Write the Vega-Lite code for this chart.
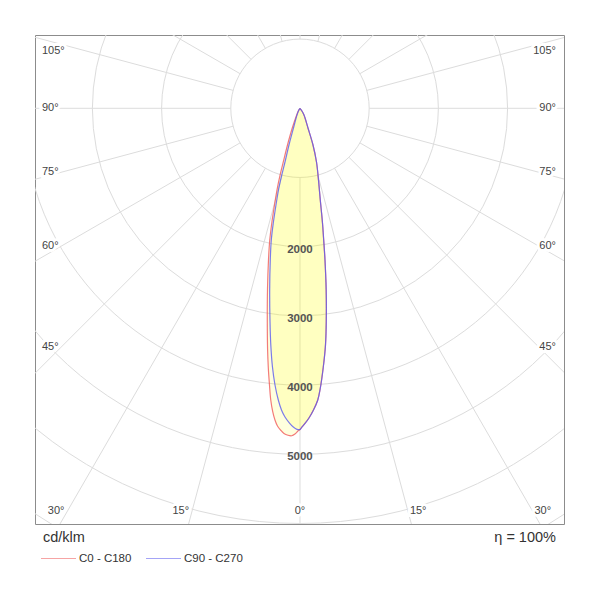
{
  "$schema": "https://vega.github.io/schema/vega-lite/v6.json",
  "width": 529,
  "height": 489,
  "autosize": {"type": "none"},
  "padding": {"left": 35, "top": 35, "right": 36, "bottom": 76},
  "config": {
    "view": {"stroke": "#8c8c8c", "strokeWidth": 1},
    "font": "Liberation Sans",
    "text": {"font": "Liberation Sans"}
  },
  "datasets": {
    "curves": [
      {"plane": "C0 - C180", "angle": -40, "I": 0},
      {"plane": "C0 - C180", "angle": -33, "I": 45},
      {"plane": "C0 - C180", "angle": -26.2, "I": 108},
      {"plane": "C0 - C180", "angle": -21.35, "I": 306},
      {"plane": "C0 - C180", "angle": -18.8, "I": 560},
      {"plane": "C0 - C180", "angle": -17.3, "I": 812},
      {"plane": "C0 - C180", "angle": -16.6, "I": 1008},
      {"plane": "C0 - C180", "angle": -15.72, "I": 1227},
      {"plane": "C0 - C180", "angle": -14.77, "I": 1445},
      {"plane": "C0 - C180", "angle": -13.81, "I": 1707},
      {"plane": "C0 - C180", "angle": -12.92, "I": 1953},
      {"plane": "C0 - C180", "angle": -11.73, "I": 2239},
      {"plane": "C0 - C180", "angle": -10.14, "I": 2667},
      {"plane": "C0 - C180", "angle": -8.78, "I": 3096},
      {"plane": "C0 - C180", "angle": -7.63, "I": 3524},
      {"plane": "C0 - C180", "angle": -6.99, "I": 3766},
      {"plane": "C0 - C180", "angle": -6.29, "I": 4023},
      {"plane": "C0 - C180", "angle": -5.72, "I": 4237},
      {"plane": "C0 - C180", "angle": -5.12, "I": 4406},
      {"plane": "C0 - C180", "angle": -4.59, "I": 4519},
      {"plane": "C0 - C180", "angle": -4.05, "I": 4603},
      {"plane": "C0 - C180", "angle": -3.47, "I": 4657},
      {"plane": "C0 - C180", "angle": -2.82, "I": 4705},
      {"plane": "C0 - C180", "angle": -2.1, "I": 4728},
      {"plane": "C0 - C180", "angle": -1.45, "I": 4733},
      {"plane": "C0 - C180", "angle": -0.88, "I": 4707},
      {"plane": "C0 - C180", "angle": -0.36, "I": 4663},
      {"plane": "C0 - C180", "angle": 0, "I": 4642},
      {"plane": "C0 - C180", "angle": 0.27, "I": 4613},
      {"plane": "C0 - C180", "angle": 0.91, "I": 4555},
      {"plane": "C0 - C180", "angle": 1.66, "I": 4477},
      {"plane": "C0 - C180", "angle": 2.56, "I": 4364},
      {"plane": "C0 - C180", "angle": 3.49, "I": 4223},
      {"plane": "C0 - C180", "angle": 4.06, "I": 4081},
      {"plane": "C0 - C180", "angle": 5.15, "I": 3753},
      {"plane": "C0 - C180", "angle": 6.15, "I": 3440},
      {"plane": "C0 - C180", "angle": 7.08, "I": 3083},
      {"plane": "C0 - C180", "angle": 8.2, "I": 2653},
      {"plane": "C0 - C180", "angle": 9.36, "I": 2221},
      {"plane": "C0 - C180", "angle": 10.2, "I": 1934},
      {"plane": "C0 - C180", "angle": 11.1, "I": 1689},
      {"plane": "C0 - C180", "angle": 12.48, "I": 1357},
      {"plane": "C0 - C180", "angle": 14.47, "I": 1070},
      {"plane": "C0 - C180", "angle": 17.08, "I": 812},
      {"plane": "C0 - C180", "angle": 19.5, "I": 563},
      {"plane": "C0 - C180", "angle": 22.1, "I": 307},
      {"plane": "C0 - C180", "angle": 30.8, "I": 113},
      {"plane": "C0 - C180", "angle": 36, "I": 40},
      {"plane": "C0 - C180", "angle": 40, "I": 0},
      {"plane": "C90 - C270", "angle": -40, "I": 0},
      {"plane": "C90 - C270", "angle": -31, "I": 40},
      {"plane": "C90 - C270", "angle": -24.1, "I": 106},
      {"plane": "C90 - C270", "angle": -18.3, "I": 300},
      {"plane": "C90 - C270", "angle": -16.7, "I": 554},
      {"plane": "C90 - C270", "angle": -15.6, "I": 806},
      {"plane": "C90 - C270", "angle": -15.26, "I": 999},
      {"plane": "C90 - C270", "angle": -14.74, "I": 1221},
      {"plane": "C90 - C270", "angle": -13.94, "I": 1440},
      {"plane": "C90 - C270", "angle": -13.1, "I": 1702},
      {"plane": "C90 - C270", "angle": -12.29, "I": 1948},
      {"plane": "C90 - C270", "angle": -11.08, "I": 2234},
      {"plane": "C90 - C270", "angle": -9.47, "I": 2662},
      {"plane": "C90 - C270", "angle": -8.07, "I": 3090},
      {"plane": "C90 - C270", "angle": -7.03, "I": 3446},
      {"plane": "C90 - C270", "angle": -6.07, "I": 3760},
      {"plane": "C90 - C270", "angle": -5.16, "I": 4015},
      {"plane": "C90 - C270", "angle": -4.25, "I": 4227},
      {"plane": "C90 - C270", "angle": -3.51, "I": 4368},
      {"plane": "C90 - C270", "angle": -2.78, "I": 4466},
      {"plane": "C90 - C270", "angle": -1.91, "I": 4551},
      {"plane": "C90 - C270", "angle": -1.2, "I": 4607},
      {"plane": "C90 - C270", "angle": -0.54, "I": 4639},
      {"plane": "C90 - C270", "angle": 0, "I": 4642},
      {"plane": "C90 - C270", "angle": 0.27, "I": 4613},
      {"plane": "C90 - C270", "angle": 0.91, "I": 4555},
      {"plane": "C90 - C270", "angle": 1.66, "I": 4477},
      {"plane": "C90 - C270", "angle": 2.56, "I": 4364},
      {"plane": "C90 - C270", "angle": 3.49, "I": 4223},
      {"plane": "C90 - C270", "angle": 4.06, "I": 4081},
      {"plane": "C90 - C270", "angle": 5.15, "I": 3753},
      {"plane": "C90 - C270", "angle": 6.15, "I": 3440},
      {"plane": "C90 - C270", "angle": 7.08, "I": 3083},
      {"plane": "C90 - C270", "angle": 8.2, "I": 2653},
      {"plane": "C90 - C270", "angle": 9.36, "I": 2221},
      {"plane": "C90 - C270", "angle": 10.2, "I": 1934},
      {"plane": "C90 - C270", "angle": 11.1, "I": 1689},
      {"plane": "C90 - C270", "angle": 12.48, "I": 1357},
      {"plane": "C90 - C270", "angle": 14.47, "I": 1070},
      {"plane": "C90 - C270", "angle": 17.08, "I": 812},
      {"plane": "C90 - C270", "angle": 19.5, "I": 563},
      {"plane": "C90 - C270", "angle": 22.1, "I": 307},
      {"plane": "C90 - C270", "angle": 30.8, "I": 113},
      {"plane": "C90 - C270", "angle": 36, "I": 40},
      {"plane": "C90 - C270", "angle": 40, "I": 0}
    ],
    "circles": [
      {"r": 1000}, {"r": 2000}, {"r": 3000}, {"r": 4000}, {"r": 5000}, {"r": 6000}, {"r": 7000}
    ],
    "radials": [
      {"a": 0}, {"a": 15}, {"a": 30}, {"a": 45}, {"a": 60}, {"a": 75}, {"a": 90}, {"a": 105},
      {"a": 120}, {"a": 135}, {"a": 150}, {"a": 165}, {"a": 180}, {"a": 195}, {"a": 210}, {"a": 225},
      {"a": 240}, {"a": 255}, {"a": 270}, {"a": 285}, {"a": 300}, {"a": 315}, {"a": 330}, {"a": 345}
    ],
    "dist": [{"r": 2000}, {"r": 3000}, {"r": 4000}, {"r": 5000}],
    "side": [{"a": 105}, {"a": 90}, {"a": 75}, {"a": 60}, {"a": 45}],
    "bottom": [{"a": -30}, {"a": -15}, {"a": 0}, {"a": 15}, {"a": 30}]
  },
  "layer": [
    {
      "data": {"name": "circles"},
      "mark": {"type": "arc", "theta": 0, "theta2": 6.2832, "filled": false, "color": "#dcdcdc", "strokeWidth": 1, "clip": true},
      "encoding": {
        "x": {"datum": 0, "type": "quantitative", "scale": {"domain": [-3829, 3815], "nice": false, "zero": false}, "axis": null},
        "y": {"datum": 0, "type": "quantitative", "scale": {"domain": [-6007, 1059], "nice": false, "zero": false}, "axis": null},
        "radius": {"field": "r", "type": "quantitative", "stack": null, "scale": {"type": "linear", "domain": [0, 7000], "range": [0, 484.4], "zero": true}, "legend": null}
      }
    },
    {
      "data": {"name": "radials"},
      "transform": [
        {"calculate": "1000*sin(datum.a*PI/180)", "as": "xa"},
        {"calculate": "-1000*cos(datum.a*PI/180)", "as": "ya"},
        {"calculate": "9000*sin(datum.a*PI/180)", "as": "xb"},
        {"calculate": "-9000*cos(datum.a*PI/180)", "as": "yb"}
      ],
      "mark": {"type": "rule", "color": "#dcdcdc", "strokeWidth": 1, "clip": true},
      "encoding": {
        "x": {"field": "xa", "type": "quantitative", "scale": {"domain": [-3829, 3815], "nice": false, "zero": false}, "axis": null},
        "y": {"field": "ya", "type": "quantitative", "scale": {"domain": [-6007, 1059], "nice": false, "zero": false}, "axis": null},
        "x2": {"field": "xb"},
        "y2": {"field": "yb"}
      }
    },
    {
      "data": {"name": "curves"},
      "transform": [
        {"calculate": "datum.I*sin(datum.angle*PI/180)", "as": "cx"},
        {"calculate": "-datum.I*cos(datum.angle*PI/180)", "as": "cy"}
      ],
      "mark": {"type": "line", "fill": "#ffff00", "fillOpacity": 0.13, "strokeWidth": 1.2, "strokeOpacity": 0.8, "interpolate": "catmull-rom"},
      "encoding": {
        "x": {"field": "cx", "type": "quantitative", "scale": {"domain": [-3829, 3815], "nice": false, "zero": false}, "axis": null},
        "y": {"field": "cy", "type": "quantitative", "scale": {"domain": [-6007, 1059], "nice": false, "zero": false}, "axis": null},
        "order": {"field": "angle", "type": "quantitative"},
        "stroke": {
          "field": "plane", "type": "nominal",
          "scale": {"domain": ["C0 - C180", "C90 - C270"], "range": ["#f05a5a", "#5a5af0"]},
          "legend": {
            "orient": "none", "legendX": 5, "legendY": 505, "direction": "horizontal", "title": null,
            "symbolType": "stroke", "symbolSize": 1225, "symbolStrokeWidth": 1.2, "symbolOpacity": 0.55,
            "labelFontSize": 11.5, "labelFont": "Liberation Sans", "labelColor": "#333333",
            "columnPadding": 11, "labelOffset": 2, "padding": 0
          }
        }
      }
    },
    {
      "data": {"name": "dist"},
      "transform": [{"calculate": "-datum.r", "as": "ry"}],
      "mark": {"type": "text", "align": "center", "baseline": "middle", "dy": 3, "fontSize": 11.5, "fontWeight": "bold", "color": "#555555"},
      "encoding": {
        "x": {"datum": 0, "type": "quantitative", "scale": {"domain": [-3829, 3815], "nice": false, "zero": false}, "axis": null},
        "y": {"field": "ry", "type": "quantitative", "scale": {"domain": [-6007, 1059], "nice": false, "zero": false}, "axis": null},
        "text": {"field": "r", "type": "quantitative", "format": "d"}
      }
    },
    {
      "data": {"name": "side"},
      "transform": [
        {"calculate": "min(-3454*cos(datum.a*PI/180)/sin(datum.a*PI/180), 828)", "as": "ly"},
        {"calculate": "datum.a + '°'", "as": "lab"}
      ],
      "layer": [
        {
          "mark": {"type": "text", "align": "left", "baseline": "middle", "fontSize": 11, "fill": "white", "stroke": "white", "strokeWidth": 6},
          "encoding": {
            "x": {"datum": -3728, "type": "quantitative", "scale": {"domain": [-3829, 3815], "nice": false, "zero": false}, "axis": null},
            "y": {"field": "ly", "type": "quantitative", "scale": {"domain": [-6007, 1059], "nice": false, "zero": false}, "axis": null},
            "text": {"field": "lab"}
          }
        },
        {
          "mark": {"type": "text", "align": "left", "baseline": "middle", "fontSize": 11, "color": "#444444"},
          "encoding": {
            "x": {"datum": -3728, "type": "quantitative", "scale": {"domain": [-3829, 3815], "nice": false, "zero": false}, "axis": null},
            "y": {"field": "ly", "type": "quantitative", "scale": {"domain": [-6007, 1059], "nice": false, "zero": false}, "axis": null},
            "text": {"field": "lab"}
          }
        },
        {
          "mark": {"type": "text", "align": "right", "baseline": "middle", "fontSize": 11, "fill": "white", "stroke": "white", "strokeWidth": 6},
          "encoding": {
            "x": {"datum": 3699, "type": "quantitative", "scale": {"domain": [-3829, 3815], "nice": false, "zero": false}, "axis": null},
            "y": {"field": "ly", "type": "quantitative", "scale": {"domain": [-6007, 1059], "nice": false, "zero": false}, "axis": null},
            "text": {"field": "lab"}
          }
        },
        {
          "mark": {"type": "text", "align": "right", "baseline": "middle", "fontSize": 11, "color": "#444444"},
          "encoding": {
            "x": {"datum": 3699, "type": "quantitative", "scale": {"domain": [-3829, 3815], "nice": false, "zero": false}, "axis": null},
            "y": {"field": "ly", "type": "quantitative", "scale": {"domain": [-6007, 1059], "nice": false, "zero": false}, "axis": null},
            "text": {"field": "lab"}
          }
        }
      ]
    },
    {
      "data": {"name": "bottom"},
      "transform": [
        {"calculate": "5819*tan(datum.a*PI/180)", "as": "bx"},
        {"calculate": "abs(datum.a) + '°'", "as": "lab"}
      ],
      "layer": [
        {
          "transform": [{"filter": "datum.a < 0"}],
          "layer": [
            {"mark": {"type": "text", "align": "right", "baseline": "middle", "dx": -3, "fontSize": 11, "fill": "white", "stroke": "white", "strokeWidth": 6}},
            {"mark": {"type": "text", "align": "right", "baseline": "middle", "dx": -3, "fontSize": 11, "color": "#444444"}}
          ]
        },
        {
          "transform": [{"filter": "datum.a == 0"}],
          "layer": [
            {"mark": {"type": "text", "align": "center", "baseline": "middle", "fontSize": 11, "fill": "white", "stroke": "white", "strokeWidth": 6}},
            {"mark": {"type": "text", "align": "center", "baseline": "middle", "fontSize": 11, "color": "#444444"}}
          ]
        },
        {
          "transform": [{"filter": "datum.a > 0"}],
          "layer": [
            {"mark": {"type": "text", "align": "left", "baseline": "middle", "dx": 2, "fontSize": 11, "fill": "white", "stroke": "white", "strokeWidth": 6}},
            {"mark": {"type": "text", "align": "left", "baseline": "middle", "dx": 2, "fontSize": 11, "color": "#444444"}}
          ]
        }
      ],
      "encoding": {
        "x": {"field": "bx", "type": "quantitative", "scale": {"domain": [-3829, 3815], "nice": false, "zero": false}, "axis": null},
        "y": {"datum": -5819, "type": "quantitative", "scale": {"domain": [-6007, 1059], "nice": false, "zero": false}, "axis": null},
        "text": {"field": "lab"}
      }
    },
    {
      "data": {"values": [{"t": "cd/klm"}]},
      "mark": {"type": "text", "align": "left", "baseline": "middle", "fontSize": 14.5, "color": "#333333"},
      "encoding": {
        "x": {"datum": -3714, "type": "quantitative", "scale": {"domain": [-3829, 3815], "nice": false, "zero": false}, "axis": null},
        "y": {"datum": -6209, "type": "quantitative", "scale": {"domain": [-6007, 1059], "nice": false, "zero": false}, "axis": null},
        "text": {"field": "t"}
      }
    },
    {
      "data": {"values": [{"t": "η = 100%"}]},
      "mark": {"type": "text", "align": "right", "baseline": "middle", "fontSize": 14.5, "color": "#333333"},
      "encoding": {
        "x": {"datum": 3699, "type": "quantitative", "scale": {"domain": [-3829, 3815], "nice": false, "zero": false}, "axis": null},
        "y": {"datum": -6209, "type": "quantitative", "scale": {"domain": [-6007, 1059], "nice": false, "zero": false}, "axis": null},
        "text": {"field": "t"}
      }
    }
  ]
}
